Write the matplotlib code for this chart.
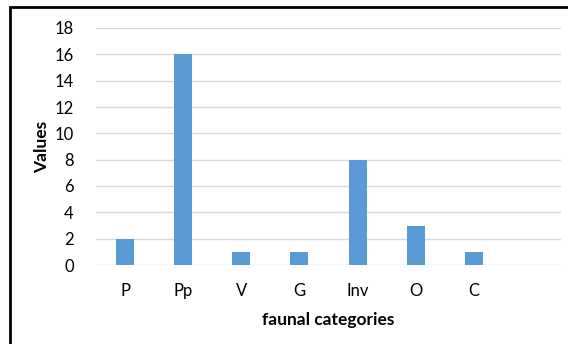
import matplotlib
matplotlib.use("Agg")
import matplotlib.pyplot as plt
from matplotlib.patches import Rectangle

categories = ["P", "Pp", "V", "G", "Inv", "O", "C", ""]
values = [2, 16, 1, 1, 8, 3, 1, 0]
yticks = [0, 2, 4, 6, 8, 10, 12, 14, 16, 18]

plt.rcParams['font.family'] = ['Lato', 'DejaVu Sans']

W, H = 568, 344
fig = plt.figure(figsize=(W / 100, H / 100), dpi=100)
ax = fig.add_axes([96 / W, 1 - 265 / H, (561 - 96) / W, (265 - 28) / H])

x = list(range(len(categories)))
ax.bar(x, values, width=0.31, color="#5B9BD5", zorder=3)
ax.set_xlim(-0.5, len(categories) - 0.5)
ax.set_ylim(0, 18)
ax.set_yticks(yticks)
ax.set_xticks(x)
ax.set_xticklabels(categories)
ax.tick_params(axis='both', length=0, labelsize=12, colors="#000000")
ax.tick_params(axis='x', pad=13)
ax.tick_params(axis='y', pad=16)
ax.grid(axis='y', color="#D9D9D9", linewidth=1, zorder=0)
for s in ax.spines.values():
    s.set_visible(False)

ax.set_xlabel("faunal categories", fontsize=12.5, fontweight='bold', labelpad=9)
ax.set_ylabel("Values", fontsize=12.5, fontweight='bold', labelpad=3)

# outer frame of the chart (partly cropped)
fig.patches.append(Rectangle((10 / W, -0.1), 1.2, 1 - 7 / H + 0.1,
                             transform=fig.transFigure, fill=False,
                             edgecolor="black", linewidth=2))

fig.savefig("out.png", dpi=100)
